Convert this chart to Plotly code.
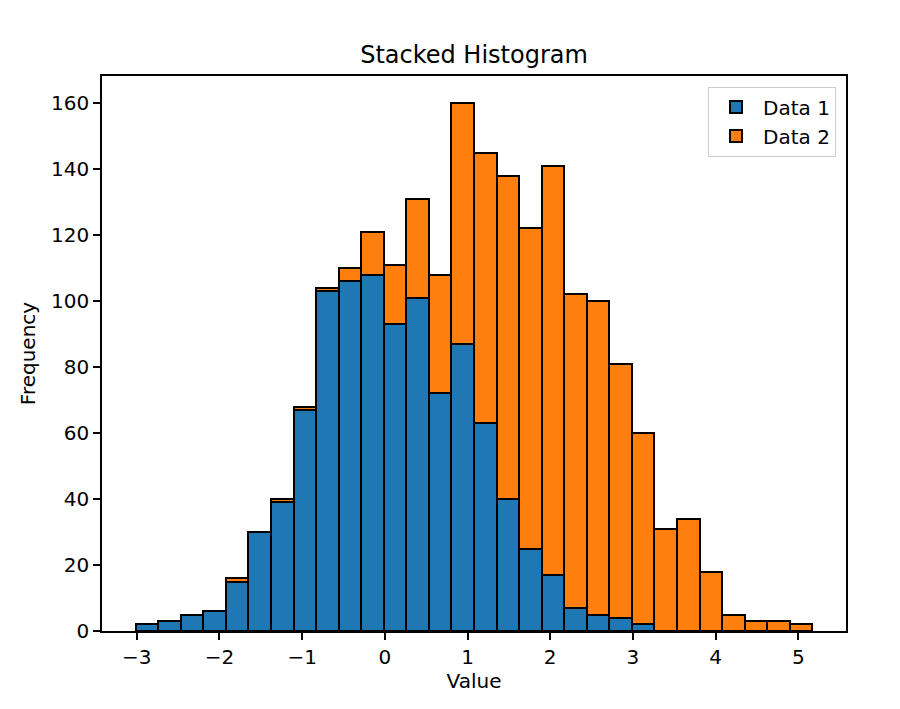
import numpy as np
import plotly.graph_objects as go

# Histogram bins (30 equal bins)
bin_start = -3.012
bin_end = 5.169
n_bins = 30

data1_counts = [2, 3, 5, 6, 15, 30, 39, 67, 103, 106, 108, 93, 101, 72, 87,
                63, 40, 25, 17, 7, 5, 4, 2, 0, 0, 0, 0, 0, 0, 0]
total_counts = [2, 3, 5, 6, 16, 30, 40, 68, 104, 110, 121, 111, 131, 108, 160,
                145, 138, 122, 141, 102, 100, 81, 60, 31, 34, 18, 5, 3, 3, 2]
data2_counts = [t - a for t, a in zip(total_counts, data1_counts)]

series_names = ["Data 1", "Data 2"]
x_ticks = [-3, -2, -1, 0, 1, 2, 3, 4, 5]
y_ticks = [0, 20, 40, 60, 80, 100, 120, 140, 160]

edges = np.linspace(bin_start, bin_end, n_bins + 1)
centers = (edges[:-1] + edges[1:]) / 2
width = edges[1] - edges[0]

fig = go.Figure()
for name, counts, color in [(series_names[0], data1_counts, "#1f77b4"),
                            (series_names[1], data2_counts, "#ff7f0e")]:
    fig.add_trace(go.Bar(
        x=centers, y=counts, width=width, name=name,
        marker=dict(color=color, line=dict(color="black", width=2)),
    ))

font_family = "DejaVu Sans"
fig.update_layout(
    barmode="stack",
    width=900, height=709,
    margin=dict(l=102, r=54, t=76, b=78),
    paper_bgcolor="white", plot_bgcolor="white",
    font=dict(family=font_family, size=20, color="black"),
    title=dict(text="Stacked Histogram", x=0.5, xanchor="center",
               y=1 - 55 / 709, yanchor="middle",
               xref="paper",
               font=dict(family=font_family, size=24, color="black")),
    showlegend=True,
    legend=dict(x=0.9866, xanchor="right", y=0.981, yanchor="top",
                traceorder="normal", itemwidth=44,
                bgcolor="white", bordercolor="#cccccc", borderwidth=1,
                font=dict(family=font_family, size=20, color="black"),
                tracegroupgap=0),
    bargap=0,
)
fig.update_xaxes(
    range=[-3.42, 5.577], tickvals=x_ticks,
    ticktext=[str(v).replace("-", "\u2212") for v in x_ticks],
    showline=True, linecolor="black", linewidth=1.6, mirror=True,
    ticks="outside", ticklen=7, tickwidth=1.6, tickcolor="black",
    showgrid=False, zeroline=False,
    title=dict(text="Value", standoff=6, font=dict(size=20)),
)
fig.update_yaxes(
    range=[0, 168.2], tickvals=y_ticks,
    showline=True, linecolor="black", linewidth=1.6, mirror=True,
    ticks="outside", ticklen=7, tickwidth=1.6, tickcolor="black",
    showgrid=False, zeroline=False,
    title=dict(text="Frequency", standoff=10, font=dict(size=20)),
)

fig.write_html("out.html", config={"displayModeBar": False})
with open("out.html", "r", encoding="utf-8") as f:
    html = f.read()
html = html.replace("<head>", "<head><style>html,body{margin:0;padding:0;}</style>", 1)
with open("out.html", "w", encoding="utf-8") as f:
    f.write(html)
